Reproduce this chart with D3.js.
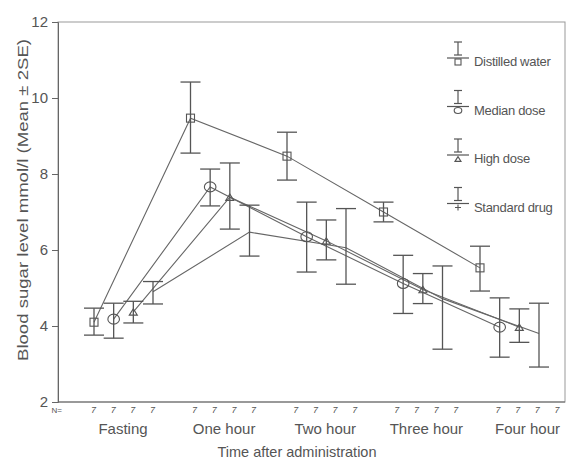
<!DOCTYPE html>
<html><head><meta charset="utf-8">
<script src="https://cdn.jsdelivr.net/npm/d3@7"></script>
<style>body{margin:0;background:#fff}svg{display:block}text{font-family:"Liberation Sans",Arial,sans-serif;fill:#555}</style>
</head><body><svg id="c" width="569" height="459"></svg>
<script>
const groups = ["Fasting","One hour","Two hour","Three hour","Four hour"];
const series = ["Distilled water","Median dose","High dose","Standard drug"];
const counts = [7,7,7,7];
const meanDW = [4.1, 9.47, 8.47, 7.0, 5.53];
const meanMD = [4.18, 7.66, 6.35, 5.12, 3.97];
const meanHD = [4.37, 7.39, 6.24, 4.96, 3.97];
const meanSD = [4.9, 6.47, 6.06, 4.72, 3.8];
const upDW = [4.47, 10.42, 9.1, 7.26, 6.1];
const upMD = [4.6, 8.13, 7.26, 5.86, 4.74];
const upHD = [4.65, 8.29, 6.79, 5.38, 4.45];
const upSD = [5.17, 7.18, 7.09, 5.58, 4.6];
const loDW = [3.76, 8.55, 7.84, 6.74, 4.92];
const loMD = [3.68, 7.16, 5.42, 4.33, 3.18];
const loHD = [4.08, 6.55, 5.74, 4.59, 3.57];
const loSD = [4.58, 5.84, 5.1, 3.39, 2.92];
const yTicks = [2,4,6,8,10,12];

const means = [meanDW, meanMD, meanHD, meanSD];
const ups = [upDW, upMD, upHD, upSD];
const los = [loDW, loMD, loHD, loSD];
const shapes = ["square","circle","triangle","plus"];

const svg = d3.select("#c");
const col = "#555";
const L = 58, R = 565, T = 22, B = 402;

const y = d3.scaleLinear().domain([2,12]).range([B,T]);
const xMark = d3.scalePoint().domain(groups).range([123.5,509.5]);
const xLab = d3.scalePoint().domain(groups).range([123,527.5]);
const inner = d3.scalePoint().domain(series).range([-29.5,29.5]);

// frame
svg.append("rect").attr("x",L).attr("y",T).attr("width",R-L).attr("height",B-T)
  .attr("fill","none").attr("stroke","#999").attr("stroke-width",1);

// y axis
const ya = svg.append("g").attr("transform",`translate(${L},0)`)
  .call(d3.axisLeft(y).tickValues(yTicks).tickSize(6).tickFormat(d3.format("d")));
ya.select(".domain").attr("stroke","#666");
ya.selectAll(".tick line").attr("stroke","#666");
ya.selectAll(".tick text").attr("font-size",15).attr("fill","#555").attr("dx","-1")
  .style("font-family","'Liberation Sans',Arial,sans-serif");

// x axis baseline
svg.append("line").attr("x1",L).attr("x2",R).attr("y1",B).attr("y2",B).attr("stroke","#666");

// N labels
svg.append("text").attr("x",62).attr("y",413).attr("font-size",8).attr("text-anchor","end").text("N=");
groups.forEach((g,gi)=>{
  series.forEach((s,si)=>{
    svg.append("text").attr("x",xLab(g)+inner(s)).attr("y",413).attr("font-size",9)
      .attr("font-style","italic").attr("text-anchor","middle").attr("fill","#777").text(counts[si]);
  });
  svg.append("text").attr("x",xLab(g)).attr("y",434).attr("font-size",15)
    .attr("text-anchor","middle").text(g);
});
svg.append("text").attr("x",297).attr("y",457).attr("font-size",14.5).attr("text-anchor","middle")
  .text("Time after administration");
svg.append("text").attr("transform","translate(28,200) rotate(-90)").attr("font-size",15.5)
  .attr("text-anchor","middle").attr("textLength",322).attr("lengthAdjust","spacingAndGlyphs")
  .text("Blood sugar level mmol/l (Mean \u00B1 2SE)");

// lines
const line = d3.line().x(d=>d[0]).y(d=>d[1]);
series.forEach((s,si)=>{
  const pts = groups.map((g,gi)=>[xMark(g)+inner(s), y(means[si][gi])]);
  svg.append("path").attr("d",line(pts)).attr("fill","none").attr("stroke","#666").attr("stroke-width",1.1);
});

function marker(g, shape, cx, cy, sz){
  if(shape==="square"){
    g.append("rect").attr("x",cx-sz/2).attr("y",cy-sz/2).attr("width",sz).attr("height",sz)
      .attr("fill","none").attr("stroke",col).attr("stroke-width",1.1);
  } else if(shape==="circle"){
    g.append("ellipse").attr("cx",cx).attr("cy",cy).attr("rx",sz/2+0.8).attr("ry",sz/2)
      .attr("fill","none").attr("stroke",col).attr("stroke-width",1.1);
  } else if(shape==="triangle"){
    const h = sz*0.8;
    g.append("path").attr("d",`M${cx-sz/2},${cy+h/2}L${cx},${cy-h/2}L${cx+sz/2},${cy+h/2}Z`)
      .attr("fill","none").attr("stroke",col).attr("stroke-width",1.1);
  } else {
    g.append("path").attr("d",`M${cx-sz/2},${cy}H${cx+sz/2}M${cx},${cy-sz/2}V${cy+sz/2}`)
      .attr("fill","none").attr("stroke",col).attr("stroke-width",1.1);
  }
}

// error bars + markers
const eg = svg.append("g");
series.forEach((s,si)=>{
  groups.forEach((g,gi)=>{
    const cx = xMark(g)+inner(s);
    const yt = y(ups[si][gi]), yb = y(los[si][gi]);
    eg.append("line").attr("x1",cx).attr("x2",cx).attr("y1",yt).attr("y2",yb).attr("stroke",col).attr("stroke-width",1.3);
    [yt,yb].forEach(v=>eg.append("line").attr("x1",cx-10).attr("x2",cx+10).attr("y1",v).attr("y2",v)
      .attr("stroke",col).attr("stroke-width",1.3));
    if(shapes[si]!=="plus") marker(eg, shapes[si], cx, y(means[si][gi]), shapes[si]==="circle"?10:8);
  });
});

// legend
const lg = svg.append("g");
series.forEach((s,si)=>{
  const yy = 58 + si*48.5;
  const cx = 458;
  lg.append("line").attr("x1",cx).attr("x2",cx).attr("y1",yy-16).attr("y2",yy-3).attr("stroke",col).attr("stroke-width",1.2);
  [yy-16,yy-3].forEach(v=>lg.append("line").attr("x1",cx-4).attr("x2",cx+4).attr("y1",v).attr("y2",v).attr("stroke",col).attr("stroke-width",1.2));
  lg.append("line").attr("x1",447).attr("x2",469).attr("y1",yy).attr("y2",yy).attr("stroke",col).attr("stroke-width",1.2);
  marker(lg, shapes[si], cx, yy+4, 6);
  lg.append("text").attr("x",474).attr("y",yy+8).attr("font-size",13).attr("letter-spacing","-0.3").text(s);
});
</script></body></html>
